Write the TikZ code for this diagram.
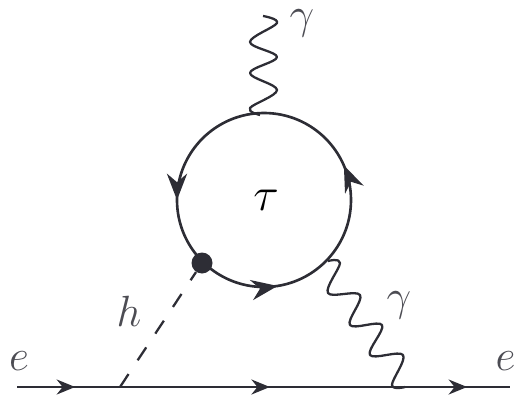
\documentclass[tikz,border=0pt]{standalone}
\usepackage{amsmath}
\usepackage{tikz}
\usetikzlibrary{arrows.meta,decorations.markings}
\definecolor{lineDark}{RGB}{45,45,53}
\begin{document}
\begin{tikzpicture}[
          >=Stealth,
          fermion/.style={draw=lineDark, line width=1.5pt},
          photon/.style={draw=lineDark, line width=1.3pt, line join=round, smooth, tension=0.6},
          scalar/.style={draw=lineDark, line width=1.3pt, dash pattern=on 0.31cm off 0.33cm},
          lbl/.style={font=\huge, scale=1.2, text=lineDark!85, inner sep=0pt},
          tip/.style={postaction={decorate, decoration={markings,
            mark=at position #1 with {\arrow[lineDark]{Stealth[length=10.5pt,width=8.5pt]}}}}},
          bigtip/.style={postaction={decorate, decoration={markings,
            mark=at position #1 with {\arrow[lineDark]{Stealth[length=15pt,width=11.5pt]}}}}}
        ]
          \useasboundingbox[clip] (0,0) rectangle (10.28,8.02);
          % external line
          \coordinate (in) at (0.34,0.28);
          \coordinate (outp) at (10.2,0.28);
          \coordinate (hv) at (2.4,0.28);
          \coordinate (gtop) at (5.26,7.7);
          \coordinate (gbot) at (8.1,0.28);
          \coordinate (lv) at (5.2,5.72);
          \coordinate (rv) at (6.56,2.8);
          \node[circle, fill=lineDark, minimum size=0.42cm, inner sep=0pt] (blob) at (4.04,2.76) {};
          \node[inner sep=0pt] (loop) at (5.28,4.02) {};
          % loop
          \path[fermion, bigtip=0.065, bigtip=0.5, bigtip=0.775] (loop) ++(1.74,0) arc[start angle=0, end angle=360, radius=1.74];
          \path[fermion, tip=0.118, tip=0.513, tip=0.913] (in) -- (outp);
          \draw[scalar] (hv) -- (blob);
          % photons
          \draw[photon] plot coordinates {(lv) (5.0,5.86) (5.54,6.22) (5.0,6.56) (5.54,6.88) (5.0,7.18) (5.54,7.56) (gtop)};
          \draw[photon] plot coordinates {(rv) (6.8,2.76) (6.56,2.16) (7.2,2.12) (7.0,1.52) (7.64,1.52) (7.4,0.92) (8.06,0.92) (7.84,0.32) (gbot)};
          \node[lbl] (eL) at (0.38,0.8) {$e$};
          \node[lbl] (eR) at (10.11,0.8) {$e$};
          \node[lbl] (hl) at (2.58,1.8) {$h$};
          \node[lbl] (gU) at (6.04,7.56) {$\gamma$};
          \node[lbl] (gR) at (7.98,1.92) {$\gamma$};
          \node[font=\huge, scale=1.3, inner sep=0pt] (tau) at (5.32,4.02) {$\tau$};
        \end{tikzpicture}
\end{document}
